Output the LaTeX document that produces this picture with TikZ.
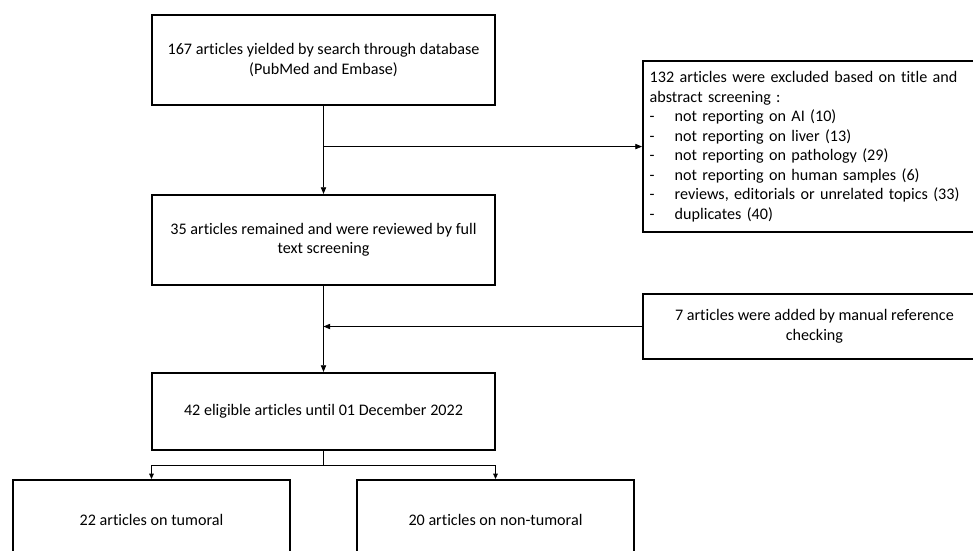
\documentclass[tikz,border=0pt]{standalone}
\usepackage{fontspec}
\setmainfont{Carlito}[Ligatures=NoCommon]
\usetikzlibrary{arrows.meta}

\tikzset{
  box/.style={draw,line width=1.6pt,align=center,inner sep=0pt,
    font=\fontsize{12.1}{14.6}\selectfont},
  arr/.style={line width=0.6pt,-{Triangle[length=5pt,width=4pt]}},
  brr/.style={line width=0.6pt,-{Triangle[length=4pt,width=3.5pt]}}
}

\begin{document}
\begin{tikzpicture}[x=0.75pt,y=-0.75pt]
    \clip (0,0) rectangle (973,550);
    \fill[white] (0,0) rectangle (973,550);
    \node [box,minimum width=257pt,minimum height=67.5pt] (src) at (323.5,60)
        {167 articles yielded by search through database\\(PubMed and Embase)};
    \node [box,minimum width=257pt,minimum height=67.5pt] (full) at (323.5,240)
        {35 articles remained and were reviewed by full\\text screening};
    \node [box,minimum width=257pt,minimum height=57.75pt] (elig) at (323.5,411.5)
        {42 eligible articles until 01 December 2022};
    \node [box,minimum width=207.75pt,minimum height=60pt] (tum) at (151.5,520)
        {22 articles on tumoral};
    \node [box,minimum width=207.75pt,minimum height=60pt] (nontum) at (495.5,520)
        {20 articles on non-tumoral};
    \node [box,minimum width=257pt,minimum height=128.25pt,align=left,
        anchor=north west,text width=250pt,inner xsep=5pt] (excl) at (642,60)
        {132 articles were excluded based on title and\\
         abstract screening :\\
         \makebox[18.75pt][l]{-}not reporting on AI (10)\\
         \makebox[18.75pt][l]{-}not reporting on liver (13)\\
         \makebox[18.75pt][l]{-}not reporting on pathology (29)\\
         \makebox[18.75pt][l]{-}not reporting on human samples (6)\\
         \makebox[18.75pt][l]{-}reviews, editorials or unrelated topics (33)\\
         \makebox[18.75pt][l]{-}duplicates (40)};
    \node [box,minimum width=257pt,minimum height=48.75pt,anchor=west] (added) at (642,326.5)
        {7 articles were added by manual reference\\checking};
    \draw [arr] (src) -- (full);
    \draw [arr] (src.south |- excl.west) -- (excl.west);
    \draw [arr] (full) -- (elig);
    \draw [arr] (added.west) -- (full.south |- added.west);
    \draw [brr] (elig.south) -- ++(0,14) -| (tum.north);
    \draw [brr] (elig.south) -- ++(0,14) -| (nontum.north);
\end{tikzpicture}
\end{document}
